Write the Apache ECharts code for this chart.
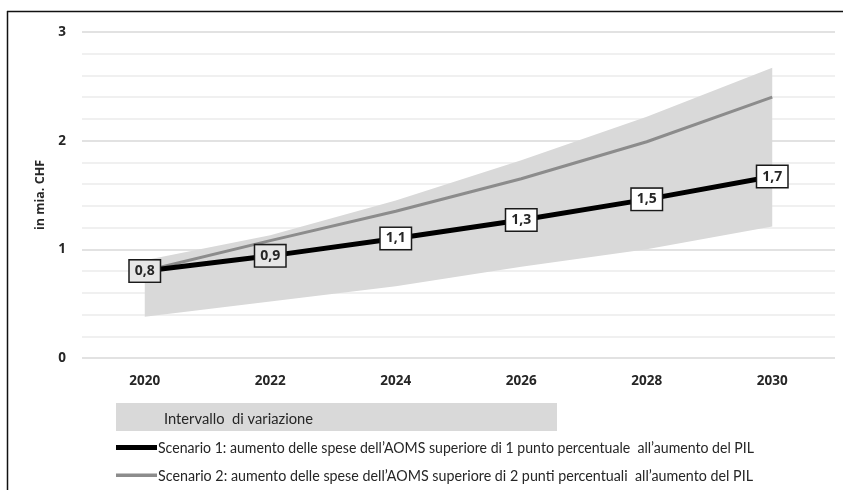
<!DOCTYPE html>
<html>
<head>
<meta charset="utf-8">
<script src="https://cdn.jsdelivr.net/npm/echarts@6/dist/echarts.min.js"></script>
<style>html,body{margin:0;padding:0;background:#fff}#c{width:843px;height:490px}</style>
</head>
<body>
<div id="c"></div>
<script>
var years = ['2020', '2022', '2024', '2026', '2028', '2030'];
var scenario1 = [0.80, 0.94, 1.10, 1.27, 1.46, 1.67];
var scenario2 = [0.80, 1.08, 1.35, 1.65, 1.99, 2.40];
var bandLower = [0.38, 0.52, 0.66, 0.84, 1.00, 1.21];
var bandUpper = [0.90, 1.13, 1.45, 1.82, 2.22, 2.67];
var name1 = 'Scenario 1: aumento delle spese dell\u2019AOMS superiore di 1 punto percentuale  all\u2019aumento del PIL';
var name2 = 'Scenario 2: aumento delle spese dell\u2019AOMS superiore di 2 punti percentuali  all\u2019aumento del PIL';
var bandName = 'Intervallo  di variazione';

var legendFontFamily = 'Lato';
var legendFontSize = 14.5;
function fitScale(text, target) {
  var cv = document.createElement('canvas').getContext('2d');
  cv.font = legendFontSize + 'px ' + legendFontFamily;
  var w = cv.measureText(text).width;
  return target / w;
}

var bandDiff = bandUpper.map(function (u, i) { return +(u - bandLower[i]).toFixed(3); });
var s1Data = scenario1.map(function (v, i) {
  return { value: v, label: { backgroundColor: i < 2 ? '#e6e6e6' : '#ffffff' } };
});

function legendText(text, x, y, target) {
  return {
    type: 'text', x: x, y: y, scaleX: fitScale(text, target), originX: 0, originY: 0,
    style: { text: text, fontFamily: legendFontFamily, fontSize: legendFontSize, fill: '#262626', verticalAlign: 'middle', align: 'left' }
  };
}

var chart = echarts.init(document.getElementById('c'));
chart.setOption({
  animation: false,
  backgroundColor: '#fff',
  grid: { left: 82, right: 8, top: 32, bottom: 132 },
  xAxis: {
    type: 'category',
    data: years,
    boundaryGap: true,
    axisLine: { show: false },
    axisTick: { show: false },
    axisLabel: { margin: 16, fontFamily: '"Open Sans", sans-serif', fontWeight: 'bold', fontSize: 13.5, color: '#262626' }
  },
  yAxis: {
    type: 'value',
    min: 0, max: 3, interval: 1,
    name: 'in mia. CHF',
    nameLocation: 'middle',
    nameGap: 34,
    nameTextStyle: { fontFamily: '"Open Sans", sans-serif', fontWeight: 'bold', fontSize: 12.5, color: '#262626' },
    axisLine: { show: false },
    axisTick: { show: false },
    axisLabel: { margin: 16, fontFamily: '"Open Sans", sans-serif', fontWeight: 'bold', fontSize: 13.5, color: '#262626' },
    splitLine: { show: true, lineStyle: { color: '#d9d9d9', width: 1.5 } },
    minorTick: { show: false, splitNumber: 5 },
    minorSplitLine: { show: true, lineStyle: { color: '#ececec', width: 1.5 } }
  },
  series: [
    {
      name: 'lower', type: 'line', stack: 'band', data: bandLower,
      symbol: 'none', lineStyle: { width: 0, opacity: 0 }, silent: true, z: 1
    },
    {
      name: bandName, type: 'line', stack: 'band', data: bandDiff,
      symbol: 'none', lineStyle: { width: 0, opacity: 0 },
      areaStyle: { color: '#d9d9d9', opacity: 1 }, silent: true, z: 1
    },
    {
      name: name2, type: 'line', data: scenario2,
      symbol: 'none', color: '#8c8c8c',
      lineStyle: { color: '#8c8c8c', width: 3 }, z: 2
    },
    {
      name: name1, type: 'line', data: s1Data,
      symbol: 'circle', symbolSize: 1, color: '#000',
      itemStyle: { color: '#000' },
      lineStyle: { color: '#000', width: 5 }, z: 3,
      label: {
        show: true,
        position: 'inside',
        formatter: function (p) { return p.value.toFixed(1).replace('.', ','); },
        fontFamily: '"Open Sans", sans-serif',
        fontWeight: 'bold',
        fontSize: 14,
        color: '#262626',
        backgroundColor: '#fff',
        borderColor: '#1a1a1a',
        borderWidth: 1.5,
        padding: [4, 5, 3, 5]
      }
    }
  ],
  graphic: [
    { type: 'line', shape: { x1: 7, y1: 11.5, x2: 843, y2: 11.5 }, style: { stroke: '#111', lineWidth: 1.5 } },
    { type: 'line', shape: { x1: 7.5, y1: 11, x2: 7.5, y2: 490 }, style: { stroke: '#111', lineWidth: 1.5 } },
    { type: 'rect', shape: { x: 116, y: 403, width: 441, height: 28 }, style: { fill: '#d9d9d9' } },
    legendText(bandName, 164, 419, 149),
    { type: 'rect', shape: { x: 116, y: 445, width: 41, height: 5 }, style: { fill: '#000' } },
    legendText(name1, 158, 448, 596),
    { type: 'rect', shape: { x: 116, y: 473.5, width: 41, height: 3.5 }, style: { fill: '#8c8c8c' } },
    legendText(name2, 158, 476, 595)
  ]
});
</script>
</body>
</html>
